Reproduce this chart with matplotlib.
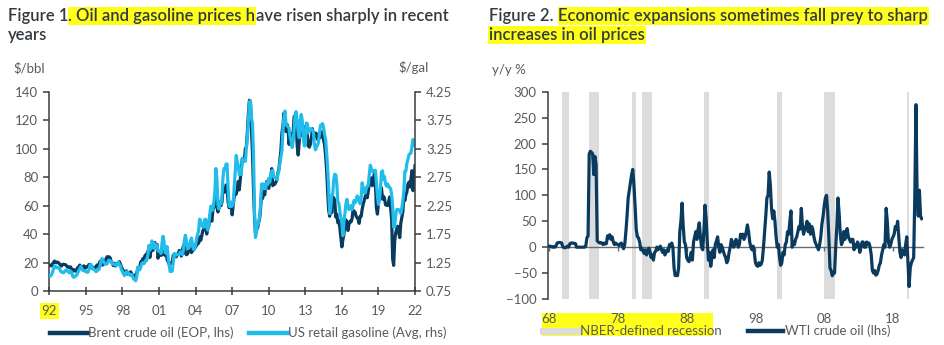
import numpy as np
import matplotlib.pyplot as plt
from matplotlib.lines import Line2D
from matplotlib.patches import Rectangle

plt.rcParams['font.family'] = ['Lato', 'DejaVu Sans']

# ---- Figure 1 data: monthly, Jan 1992 .. Jan 2022 ----
brent_rows = [
    [18.2, 18.0, 17.6, 19.0, 19.8, 21.0, 20.5, 19.8, 20.3, 20.0, 19.0, 18.3],  # 1992
    [17.5, 18.6, 18.8, 18.6, 18.5, 17.6, 16.8, 16.9, 16.3, 16.9, 15.3, 13.9],
    [15.0, 14.2, 13.9, 15.3, 16.4, 17.0, 18.2, 17.1, 16.2, 16.5, 17.7, 15.8],
    [16.6, 17.1, 16.9, 18.6, 18.6, 17.1, 16.0, 16.5, 16.6, 16.2, 17.1, 18.3],
    [17.6, 18.6, 20.9, 19.1, 18.2, 18.5, 19.5, 20.2, 22.9, 24.1, 23.5, 24.0],
    [23.2, 20.5, 19.6, 17.9, 19.5, 17.6, 19.2, 18.9, 18.9, 20.6, 18.9, 16.9],
    [15.4, 14.1, 13.3, 13.5, 14.2, 11.9, 12.0, 12.3, 13.5, 12.3, 10.9, 10.1],
    [11.1, 10.3, 12.5, 15.3, 15.4, 16.3, 20.4, 20.6, 22.6, 21.9, 24.6, 25.5],
    [25.5, 27.8, 27.5, 23.5, 28.0, 30.0, 28.5, 31.1, 34.0, 31.0, 32.7, 23.0],
    [26.0, 27.3, 25.0, 25.5, 28.0, 26.0, 25.0, 26.5, 22.0, 20.5, 18.8, 19.5],
    [19.5, 20.2, 25.0, 25.5, 25.3, 24.0, 25.8, 26.5, 28.5, 27.0, 24.5, 29.0],
    [31.5, 32.5, 26.5, 25.5, 26.0, 28.0, 28.5, 30.0, 27.0, 29.5, 28.8, 30.0],
    [31.0, 32.0, 33.5, 33.5, 38.0, 35.5, 38.5, 42.0, 43.5, 49.5, 44.0, 40.0],
    [44.5, 45.5, 53.0, 52.0, 49.0, 56.5, 58.5, 65.0, 63.0, 59.5, 55.5, 58.5],
    [63.0, 60.0, 62.5, 72.0, 70.0, 69.5, 74.5, 73.0, 62.5, 58.5, 60.0, 61.0],
    [53.5, 60.0, 66.5, 68.5, 68.0, 71.5, 77.0, 71.0, 78.5, 86.0, 93.0, 93.0],
    [92.0, 100.0, 101.0, 112.0, 125.0, 134.0, 133.0, 113.0, 97.0, 72.0, 52.0, 40.0],
    [44.0, 44.0, 48.0, 50.5, 58.0, 69.0, 65.0, 73.0, 67.5, 73.0, 77.0, 75.0],
    [72.0, 76.0, 80.0, 86.0, 74.0, 75.0, 75.0, 76.5, 78.0, 83.0, 85.5, 92.0],
    [99.0, 111.0, 116.0, 125.0, 114.0, 112.0, 117.0, 114.5, 103.0, 109.5, 110.5, 107.5],
    [111.0, 122.5, 123.0, 119.5, 102.0, 95.5, 104.5, 115.0, 113.0, 109.0, 111.0, 111.0],
    [115.5, 111.0, 109.5, 102.0, 101.0, 103.0, 107.5, 114.0, 108.5, 108.0, 111.0, 110.5],
    [106.5, 109.0, 107.5, 108.0, 109.5, 112.0, 106.0, 102.5, 95.0, 85.0, 70.0, 57.0],
    [52.5, 62.5, 55.0, 66.0, 65.5, 63.5, 52.0, 54.0, 48.0, 49.5, 44.5, 37.5],
    [31.0, 36.0, 39.5, 48.0, 50.0, 48.0, 42.5, 47.0, 49.0, 48.5, 50.5, 57.0],
    [55.5, 55.5, 52.5, 51.5, 50.5, 47.5, 52.5, 52.5, 57.5, 61.0, 63.5, 66.5],
    [69.0, 65.5, 70.0, 75.0, 77.5, 79.5, 74.0, 77.5, 82.5, 75.5, 58.5, 54.0],
    [61.5, 66.0, 68.0, 72.5, 64.5, 66.5, 65.0, 60.5, 60.5, 60.0, 62.5, 66.0],
    [58.0, 50.5, 22.5, 18.0, 35.0, 41.0, 43.5, 45.5, 41.0, 37.5, 47.5, 51.5],
    [55.5, 66.0, 63.5, 67.5, 69.5, 75.0, 76.5, 73.0, 78.5, 84.5, 70.5, 78.0],
    [88.0],  # 2022
]

gasoline_rows = [
    [1.02, 1.01, 1.03, 1.07, 1.13, 1.19, 1.18, 1.16, 1.16, 1.16, 1.15, 1.10],  # 1992
    [1.08, 1.08, 1.07, 1.09, 1.11, 1.12, 1.10, 1.08, 1.07, 1.10, 1.08, 1.01],
    [0.99, 1.01, 1.01, 1.03, 1.07, 1.11, 1.14, 1.18, 1.15, 1.11, 1.11, 1.10],
    [1.09, 1.08, 1.08, 1.12, 1.20, 1.22, 1.18, 1.14, 1.13, 1.11, 1.09, 1.10],
    [1.13, 1.13, 1.19, 1.28, 1.32, 1.28, 1.25, 1.22, 1.22, 1.23, 1.27, 1.29],
    [1.28, 1.27, 1.23, 1.22, 1.22, 1.22, 1.19, 1.24, 1.26, 1.21, 1.19, 1.13],
    [1.09, 1.05, 1.02, 1.05, 1.09, 1.08, 1.06, 1.03, 1.02, 1.04, 1.01, 0.96],
    [0.95, 0.93, 0.99, 1.17, 1.14, 1.12, 1.17, 1.23, 1.25, 1.23, 1.25, 1.29],
    [1.29, 1.38, 1.55, 1.47, 1.49, 1.63, 1.59, 1.50, 1.58, 1.56, 1.55, 1.45],
    [1.45, 1.45, 1.41, 1.60, 1.71, 1.61, 1.43, 1.41, 1.53, 1.34, 1.20, 1.09],
    [1.11, 1.10, 1.25, 1.41, 1.40, 1.38, 1.39, 1.39, 1.39, 1.44, 1.42, 1.39],
    [1.47, 1.64, 1.73, 1.63, 1.52, 1.50, 1.52, 1.62, 1.68, 1.56, 1.48, 1.49],
    [1.57, 1.67, 1.74, 1.81, 2.01, 1.97, 1.91, 1.88, 1.87, 2.00, 2.01, 1.88],
    [1.82, 1.91, 2.09, 2.24, 2.16, 2.18, 2.30, 2.50, 2.90, 2.72, 2.26, 2.19],
    [2.32, 2.28, 2.42, 2.75, 2.90, 2.89, 2.98, 2.98, 2.56, 2.25, 2.23, 2.31],
    [2.24, 2.28, 2.56, 2.85, 3.13, 3.02, 2.96, 2.79, 2.80, 2.80, 3.08, 3.02],
    [3.04, 3.03, 3.26, 3.44, 3.76, 4.07, 4.09, 3.79, 3.70, 3.17, 2.15, 1.69],
    [1.79, 1.93, 1.95, 2.06, 2.27, 2.63, 2.54, 2.63, 2.55, 2.55, 2.66, 2.62],
    [2.73, 2.66, 2.78, 2.86, 2.87, 2.75, 2.74, 2.75, 2.71, 2.80, 2.86, 2.99],
    [3.10, 3.21, 3.56, 3.80, 3.91, 3.68, 3.65, 3.64, 3.61, 3.45, 3.38, 3.27],
    [3.38, 3.58, 3.85, 3.90, 3.73, 3.54, 3.44, 3.72, 3.85, 3.75, 3.45, 3.30],
    [3.30, 3.70, 3.69, 3.54, 3.60, 3.60, 3.59, 3.58, 3.53, 3.32, 3.23, 3.28],
    [3.31, 3.36, 3.53, 3.66, 3.67, 3.69, 3.62, 3.49, 3.41, 3.18, 2.91, 2.56],
    [2.11, 2.21, 2.42, 2.45, 2.71, 2.80, 2.79, 2.64, 2.33, 2.29, 2.15, 2.04],
    [1.95, 1.72, 1.96, 2.11, 2.28, 2.36, 2.23, 2.18, 2.22, 2.25, 2.18, 2.25],
    [2.34, 2.30, 2.33, 2.42, 2.40, 2.35, 2.28, 2.38, 2.65, 2.49, 2.56, 2.47],
    [2.55, 2.59, 2.60, 2.80, 2.96, 2.90, 2.85, 2.86, 2.84, 2.87, 2.66, 2.42],
    [2.27, 2.34, 2.56, 2.84, 2.86, 2.71, 2.76, 2.63, 2.59, 2.63, 2.60, 2.56],
    [2.55, 2.44, 2.23, 1.87, 1.88, 2.08, 2.18, 2.18, 2.18, 2.16, 2.11, 2.20],
    [2.33, 2.50, 2.85, 2.86, 2.99, 3.06, 3.14, 3.16, 3.17, 3.29, 3.41, 3.31],
    [3.32],  # 2022
]

fig1_ticks = [1992, 1995, 1998, 2001, 2004, 2007, 2010, 2013, 2016, 2019, 2022]
fig1_labels = ['92', '95', '98', '01', '04', '07', '10', '13', '16', '19', '22']

# ---- Figure 2 data: WTI y/y %, every two months, Jan 1968 .. Mar 2022 ----
wti_rows = [
    [2, 2, 1, 0, 1, 0],            # 1968
    [2, 8, 9, 9, 9, 8],
    [1, -1, -1, 0, 2, 0],
    [6, 8, 8, 8, 7, 7],
    [0, 0, 0, 0, 0, 0],
    [0, 0, 2, 18, 22, 180],
    [185, 183, 180, 140, 175, 160],
    [12, 10, 8, 9, 8, 5],
    [8, 6, 7, 22, 18, 24],
    [15, 20, 10, 5, 8, 6],
    [5, 3, 6, 8, 2, -3],
    [5, 30, 60, 95, 110, 125],
    [140, 150, 120, 80, 35, 20],
    [18, 10, -5, -2, -8, -12],
    [-5, -15, -10, -2, -8, -20],
    [-15, -25, -10, -8, 0, -5],
    [-2, 2, -5, -10, -5, -15],
    [-10, -5, -8, 5, 2, 8],
    [0, -40, -55, -52, -55, -40],
    [30, 50, 85, 40, 10, 5],
    [-20, -25, -28, -20, -10, -25],
    [10, 20, 30, 15, 35, 47],
    [20, 0, -5, 30, 81, 55],
    [10, -25, -10, -37, -20, -5],
    [-20, 5, 12, 20, 0, -10],
    [5, 0, -8, -15, -20, -30],
    [-25, -10, 0, 15, 10, 0],
    [5, 15, 10, 0, 5, 25],
    [20, 25, 15, 20, 30, 43],
    [30, 10, 0, -5, 2, -10],
    [-30, -35, -37, -30, -35, -33],
    [-25, 0, 30, 60, 95, 100],
    [145, 120, 75, 55, 70, 50],
    [20, 0, 5, -20, -35, -30],
    [-10, -15, 5, 10, 30, 25],
    [50, 70, 0, 10, 5, 15],
    [20, 30, 40, 35, 75, 40],
    [25, 35, 40, 50, 30, 45],
    [25, 40, 35, 20, 10, 5],
    [0, -5, 5, 20, 45, 60],
    [80, 95, 100, 70, 20, -40],
    [-45, -55, -50, -50, 0, 40],
    [95, 65, 25, 5, 10, 30],
    [15, 30, 36, 20, 15, 10],
    [15, 15, -5, 5, 0, 10],
    [5, -10, 0, 10, 10, 0],
    [0, 10, 5, 8, 0, -15],
    [-45, -50, -45, -54, -52, -45],
    [-35, -30, -15, -5, 5, 0],
    [75, 50, 10, 0, 5, 15],
    [20, 25, 40, 35, 50, 20],
    [-10, -20, -5, -10, -15, 5],
    [20, -30, -76, -40, -30, -25],
    [-20, 100, 275, 100, 60, 110],
    [60, 55],                      # 2022
]

# NBER recessions (start, end) in decimal years
recessions = [
    (1969.92, 1970.92), (1973.83, 1975.25), (1980.0, 1980.58),
    (1981.5, 1982.92), (1990.5, 1991.25), (2001.17, 2001.92),
    (2007.92, 2009.5), (2020.08, 2020.33),
]

fig2_ticks = [1968, 1978, 1988, 1998, 2008, 2018]
fig2_labels = ['68', '78', '88', '98', '08', '18']

brent = np.concatenate(brent_rows)
gasoline = np.concatenate(gasoline_rows)
t_month = 1992 + np.arange(len(brent)) / 12
wti = np.concatenate(wti_rows)
t_wti = 1968 + np.arange(len(wti)) / 6

NAVY = '#0A3B5E'
CYAN = '#20BCEC'
TXT = '#5A5A5A'
TITLE = '#333A40'
SPINE = '#3C3C3C'
REC = '#DCDCDC'
HILITE = '#FFFF1A'

W, H = 944, 345
fig = plt.figure(figsize=(W / 100, H / 100), dpi=100)


def fx(px):
    return px / W


def fy(py):
    return 1 - py / H


def title_line(parts, x, y, size=12):
    """Write a line of text pieces side by side; True pieces get a highlight."""
    prev = None
    for text, marked in parts:
        kw = dict(fontsize=size, color=TITLE, fontweight='semibold', zorder=3)
        if marked:
            kw['bbox'] = dict(boxstyle='square,pad=0.05', fc=HILITE, ec='none')
            kw['zorder'] = 2
        if prev is None:
            prev = fig.text(x, y, text, ha='left', va='bottom', **kw)
        else:
            prev = fig.add_artist(plt.Annotation(text, xy=(1, 0), xycoords=prev,
                                                 ha='left', va='bottom', **kw))
    return prev


# ---- titles ----
title_line([('Figure 1', False), ('. Oil and gasoline prices h', True),
            ('ave risen sharply in recent', False)], fx(8), fy(24))
title_line([('years', False)], fx(8), fy(43))
first = fig.text(fx(489), fy(24), 'Figure 2.', ha='left', va='bottom', fontsize=12,
                 color=TITLE, fontweight='semibold')
fig.add_artist(plt.Annotation('Economic expansions sometimes fall prey to sharp',
                              xy=(1, 0), xycoords=first, xytext=(3.5, 0),
                              textcoords='offset points', ha='left', va='bottom',
                              fontsize=12, color=TITLE, fontweight='semibold',
                              bbox=dict(boxstyle='square,pad=0.05', fc=HILITE, ec='none')))
title_line([('increases in oil prices', True)], fx(489), fy(43))

# ---- Figure 1: Brent vs gasoline ----
ax1 = fig.add_axes([fx(49.3), fy(291), fx(415 - 49.3), (291 - 91.7) / H])
ax1.plot(t_month, brent, color=NAVY, lw=2.3, solid_joinstyle='round')
ax1r = ax1.twinx()
ax1r.plot(t_month, gasoline, color=CYAN, lw=2.3, solid_joinstyle='round')

ax1.set_xlim(1992, 2022)
ax1.set_ylim(0, 140)
ax1r.set_ylim(0.75, 4.25)
ax1.set_yticks(np.arange(0, 141, 20))
ax1r.set_yticks(np.arange(0.75, 4.26, 0.5))
ax1r.set_yticklabels([f'{v:.2f}' for v in np.arange(0.75, 4.26, 0.5)])
ax1.set_xticks(fig1_ticks)
xlabels = ax1.set_xticklabels(fig1_labels)
xlabels[0].set_bbox(dict(boxstyle='square,pad=0.15', fc=HILITE, ec='none'))

for a in (ax1, ax1r):
    a.spines['top'].set_visible(False)
    for s in a.spines.values():
        s.set_color(SPINE)
        s.set_linewidth(1.1)
ax1.spines['right'].set_visible(False)
ax1r.spines['left'].set_visible(False)
ax1r.spines['bottom'].set_visible(False)
ax1.tick_params(axis='y', direction='out', length=4, width=1.1, color=SPINE,
                labelsize=9.5, labelcolor=TXT, pad=4)
ax1.tick_params(axis='x', direction='inout', length=6, width=1.1, color=SPINE,
                labelsize=9.5, labelcolor=TXT, pad=7)
ax1r.tick_params(axis='y', direction='out', length=4, width=1.1, color=SPINE,
                 labelsize=9.5, labelcolor=TXT, pad=4)

fig.text(fx(13), fy(68), r'\$/bbl', ha='left', va='center', fontsize=9.5, color=TXT)
fig.text(fx(398), fy(68), r'\$/gal', ha='left', va='center', fontsize=9.5, color=TXT)

fig.legend(handles=[Line2D([], [], color=NAVY, lw=3.2, label='Brent crude oil (EOP, lhs)'),
                    Line2D([], [], color=CYAN, lw=3.2, label='US retail gasoline (Avg, rhs)')],
           loc='center', bbox_to_anchor=(fx(248), fy(333)), ncol=2, frameon=False,
           handlelength=2.9, handletextpad=0.0, columnspacing=1.2, fontsize=9.5,
           labelcolor=TXT, borderpad=0, borderaxespad=0)

# ---- Figure 2: WTI y/y with recessions ----
ax2 = fig.add_axes([fx(547.7), fy(299), fx(375.6), (299 - 91.7) / H])
ax2.set_facecolor('none')
for start, end in recessions:
    ax2.axvspan(start, end, color=REC, lw=0, zorder=0)
ax2.plot(t_wti, wti, color=NAVY, lw=2.3, solid_joinstyle='round', zorder=3)

ax2.set_xlim(1967.8, 2022.4)
ax2.set_ylim(-100, 300)
ax2.set_yticks(np.arange(-100, 301, 50))
ax2.spines['top'].set_visible(False)
ax2.spines['right'].set_visible(False)
ax2.spines['left'].set_color(SPINE)
ax2.spines['left'].set_linewidth(1.1)
ax2.spines['bottom'].set_position(('data', 0))
ax2.spines['bottom'].set_color('#6A6A6A')
ax2.spines['bottom'].set_linewidth(1.0)
ax2.set_xticks(fig2_ticks)
ax2.tick_params(axis='x', direction='out', length=3, width=1.0, color='#6A6A6A',
                labelbottom=False)
ax2.tick_params(axis='y', direction='out', length=4, width=1.1, color=SPINE,
                labelsize=9.5, labelcolor=TXT, pad=4)

sec = ax2.secondary_xaxis('bottom')
sec.spines['bottom'].set_visible(False)
sec.set_xticks(fig2_ticks)
sec.set_xticklabels(fig2_labels)
sec.tick_params(length=0, labelsize=9.5, labelcolor=TXT, pad=10)

fig.text(fx(492), fy(70), 'y/y %', ha='left', va='center', fontsize=9.5, color=TXT)

fig.add_artist(Rectangle((fx(541.7), fy(336)), fx(713 - 541.7), (336 - 313) / H,
                         transform=fig.transFigure, fc=HILITE, ec='none', zorder=-1))

fig.legend(handles=[Line2D([], [], color=REC, lw=5, label='NBER-defined recession'),
                    Line2D([], [], color=NAVY, lw=3.2, label='WTI crude oil (lhs)')],
           loc='center', bbox_to_anchor=(fx(717), fy(331)), ncol=2, frameon=False,
           handlelength=2.6, handletextpad=0.2, columnspacing=2.0, fontsize=9.5,
           labelcolor=TXT, borderpad=0, borderaxespad=0)

fig.savefig('out.png', dpi=100)
